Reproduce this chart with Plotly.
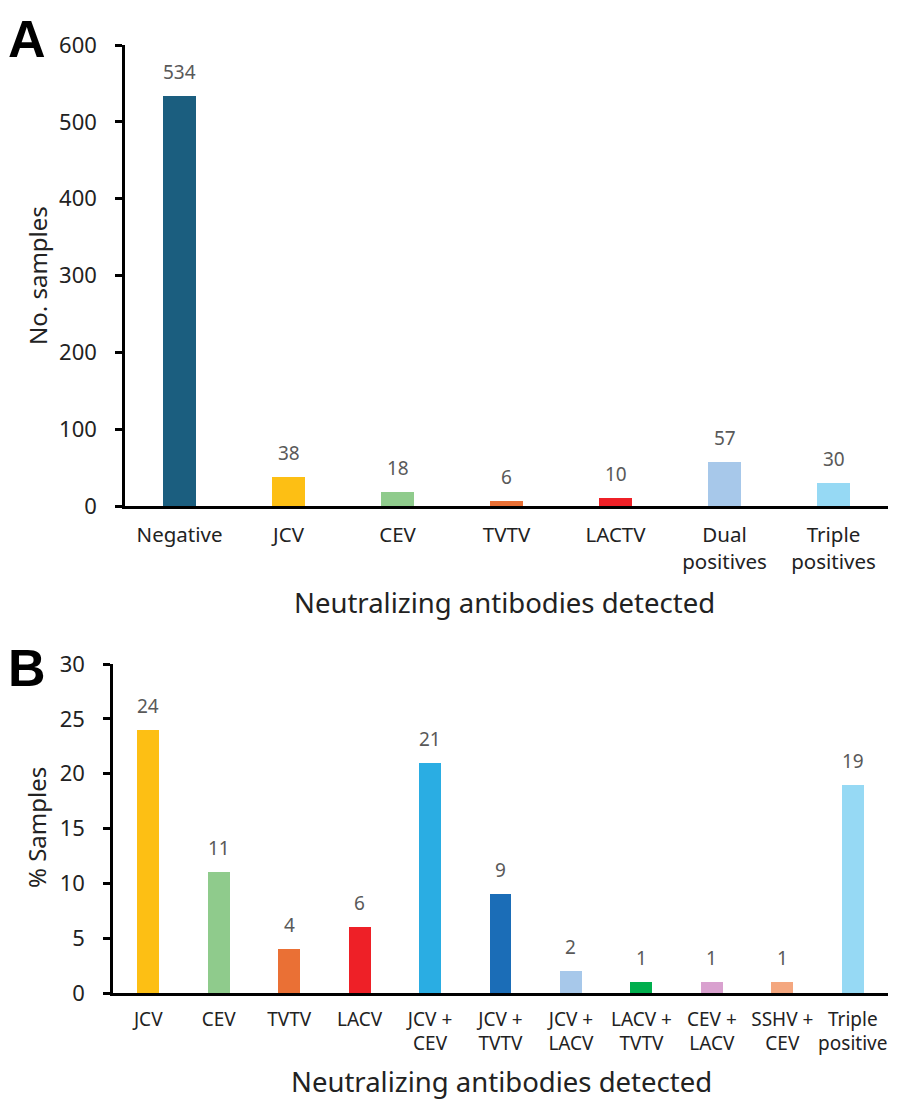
import plotly.graph_objects as go

# Panel A data
cats_a = ["Negative", "JCV", "CEV", "TVTV", "LACTV", "Dual<br>positives", "Triple<br>positives"]
vals_a = [534, 38, 18, 6, 10, 57, 30]
cols_a = ["#1B5E7F", "#FDBF14", "#8FCB8C", "#EA7035", "#EE2027", "#A7C8EA", "#96D9F4"]
ticks_a = [0, 100, 200, 300, 400, 500, 600]

# Panel B data
cats_b = ["JCV", "CEV", "TVTV", "LACV", "JCV +<br>CEV", "JCV +<br>TVTV", "JCV +<br>LACV",
          "LACV +<br>TVTV", "CEV +<br>LACV", "SSHV +<br>CEV", "Triple<br>positive"]
vals_b = [24, 11, 4, 6, 21, 9, 2, 1, 1, 1, 19]
cols_b = ["#FDBF14", "#8FCB8C", "#EA7035", "#EE2027", "#2AADE3", "#1B6DB7", "#A7C8EA",
          "#00AE4D", "#D9A1CF", "#F4A77F", "#96D9F4"]
ticks_b = [0, 5, 10, 15, 20, 25, 30]

FONT = "Noto Sans"
W, H = 900, 1109
OFF = 8  # page body offset compensation (px)


def px_x(p):
    return (p - OFF) / W


def px_y(p):
    return 1 - (p - OFF) / H


fig = go.Figure()
fig.add_trace(go.Bar(x=cats_a, y=vals_a, marker=dict(color=cols_a, line=dict(width=0)),
                     width=0.31, xaxis="x", yaxis="y", showlegend=False, hoverinfo="x+y"))
fig.add_trace(go.Bar(x=cats_b, y=vals_b, marker=dict(color=cols_b, line=dict(width=0)),
                     width=0.31, xaxis="x2", yaxis="y2", showlegend=False, hoverinfo="x+y"))

LABEL_FONT = dict(size=19, color="#595959", family=FONT)
annotations = []
for c, v in zip(cats_a, vals_a):
    annotations.append(dict(x=c, y=v, xref="x", yref="y", text=str(v), showarrow=False,
                            yanchor="bottom", yshift=9, font=LABEL_FONT))
for c, v in zip(cats_b, vals_b):
    annotations.append(dict(x=c, y=v, xref="x2", yref="y2", text=str(v), showarrow=False,
                            yanchor="bottom", yshift=9, font=LABEL_FONT))

TITLE_FONT = dict(size=27.5, color="#222", family=FONT)
YTITLE_FONT = dict(size=24, color="#222", family=FONT)
LETTER_FONT = dict(size=52, color="#000", family="Liberation Sans")
annotations += [
    dict(x=px_x(505), y=px_y(602), xref="paper", yref="paper", text="Neutralizing antibodies detected",
         showarrow=False, font=TITLE_FONT, xanchor="center", yanchor="middle"),
    dict(x=px_x(501), y=px_y(1081), xref="paper", yref="paper", text="Neutralizing antibodies detected",
         showarrow=False, font=TITLE_FONT, xanchor="center", yanchor="middle"),
    dict(x=px_x(37), y=px_y(276), xref="paper", yref="paper", text="No. samples", textangle=-90,
         showarrow=False, font=YTITLE_FONT, xanchor="center", yanchor="middle"),
    dict(x=px_x(36), y=px_y(828), xref="paper", yref="paper", text="% Samples", textangle=-90,
         showarrow=False, font=YTITLE_FONT, xanchor="center", yanchor="middle"),
    dict(x=px_x(27), y=px_y(39), xref="paper", yref="paper", text="<b>A</b>",
         showarrow=False, font=LETTER_FONT, xanchor="center", yanchor="middle"),
    dict(x=px_x(27), y=px_y(668), xref="paper", yref="paper", text="<b>B</b>",
         showarrow=False, font=LETTER_FONT, xanchor="center", yanchor="middle"),
]

axis_common = dict(showline=True, linecolor="#000", linewidth=2.5, showgrid=False, zeroline=False,
                   automargin=False)
xt_a = dict(ticks="", ticklabelstandoff=9, tickangle=0, tickfont=dict(size=20.5, color="#222", family=FONT))
xt_b = dict(ticks="", ticklabelstandoff=7, tickangle=0, tickfont=dict(size=19, color="#222", family=FONT))
yt = dict(ticks="outside", ticklen=7, tickwidth=2.5, tickcolor="#000", ticklabelstandoff=14,
          tickfont=dict(size=22, color="#222", family=FONT))

fig.update_layout(
    width=W, height=H, margin=dict(l=0, r=0, t=0, b=0, pad=0, autoexpand=False),
    paper_bgcolor="white", plot_bgcolor="white",
    bargap=0,
    xaxis=dict(domain=[px_x(125), px_x(888)], anchor="y", range=[-0.5, 6.5], **axis_common, **xt_a),
    yaxis=dict(domain=[px_y(506), px_y(45)], anchor="x", range=[0, 600], tickvals=ticks_a,
               **axis_common, **yt),
    xaxis2=dict(domain=[px_x(113), px_x(888)], anchor="y2", range=[-0.5, 10.5], **axis_common, **xt_b),
    yaxis2=dict(domain=[px_y(993), px_y(664)], anchor="x2", range=[0, 30], tickvals=ticks_b,
                **axis_common, **yt),
    annotations=annotations,
    font=dict(family=FONT),
)

fig.write_html("out.html")
